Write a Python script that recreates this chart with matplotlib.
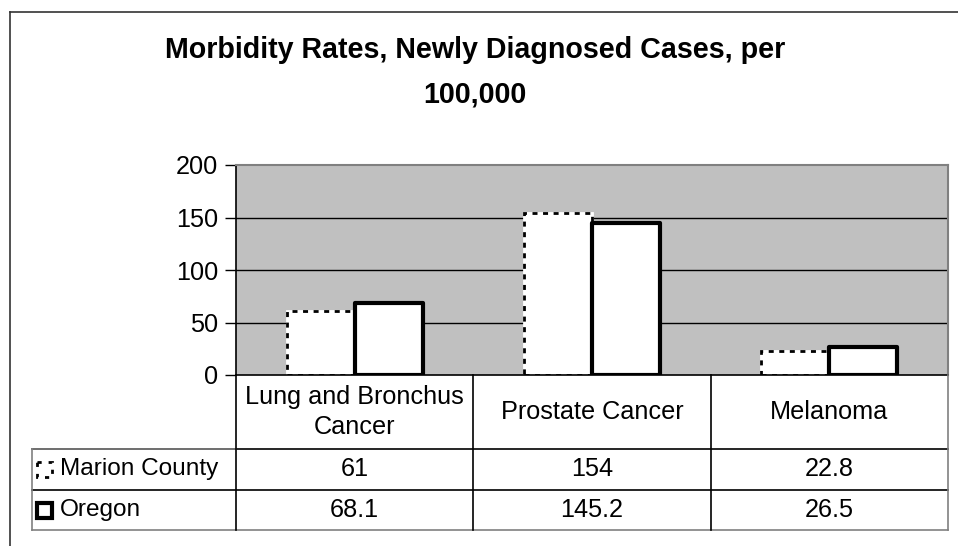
import matplotlib
matplotlib.use("Agg")
import matplotlib.pyplot as plt
from matplotlib.patches import Rectangle
from matplotlib.lines import Line2D

plt.rcParams["font.family"] = ["Liberation Sans", "DejaVu Sans"]

# data
categories = ["Lung and Bronchus\nCancer", "Prostate Cancer", "Melanoma"]
series_names = ["Marion County", "Oregon"]
marion = [61, 154, 22.8]
oregon = [68.1, 145.2, 26.5]
yticks = [0, 50, 100, 150, 200]

W, H = 958, 546
BAR_W = 0.287
FS = 18.2
OUTER = "#808080"


def fx(px):
    return px / W


def fy(py):
    return 1 - py / H


fig = plt.figure(figsize=(W / 100, H / 100), dpi=100)

# chart frame (top and left edge only)
fig.add_artist(Line2D([fx(10), 1], [fy(12), fy(12)], color="#333333", lw=1.2))
fig.add_artist(Line2D([fx(10), fx(10)], [fy(12), 0], color="#333333", lw=1.2))

fig.text(0.496, fy(72), "Morbidity Rates, Newly Diagnosed Cases, per\n100,000",
         ha="center", va="center", fontsize=20.6, fontweight="bold",
         linespacing=1.75)

# plot area
PL, PR, PT, PB = 236, 948, 165, 375
ax = fig.add_axes([fx(PL), fy(PB), (PR - PL) / W, (PB - PT) / H])
ax.set_facecolor("#c0c0c0")
x = list(range(len(categories)))
ax.set_xlim(-0.5, len(categories) - 0.5)
ax.set_ylim(0, 200)
ax.set_yticks(yticks)
ax.set_yticklabels([str(t) for t in yticks])
ax.tick_params(axis="y", direction="out", length=8, width=1, pad=5,
               labelsize=FS)
ax.set_xticks([])
for y in yticks[1:-1]:
    ax.axhline(y, color="black", lw=1, zorder=1)
ax.spines["left"].set_color("black")
ax.spines["left"].set_linewidth(1.2)
ax.spines["top"].set_color(OUTER)
ax.spines["right"].set_color(OUTER)
ax.spines["top"].set_linewidth(1.5)
ax.spines["right"].set_linewidth(1.5)
ax.spines["bottom"].set_visible(False)

xm = [i - BAR_W / 2 for i in x]
xo = [i + BAR_W / 2 for i in x]
# Marion County: white fill, dashed outline
ax.bar(xm, marion, BAR_W, color="white", edgecolor="white", lw=2, zorder=2)
ax.bar(xm, marion, BAR_W, fill=False, edgecolor="black", lw=2,
       linestyle=(0, (1.8, 2)), zorder=3)
# Oregon: white fill, heavy outline
ax.bar(xo, oregon, BAR_W, color="white", edgecolor="black", lw=3,
       joinstyle="round", zorder=4)

# data table under the plot
TL = 32
rows = [375, 449, 490, 530]
unit = (PR - PL) / len(categories)
x0 = -0.5 - (PL - TL) / unit
tax = fig.add_axes([fx(TL), fy(rows[-1]), (PR - TL) / W, (rows[-1] - rows[0]) / H])
tax.set_xlim(x0, len(categories) - 0.5)
tax.set_ylim(rows[-1], rows[0])
tax.axis("off")

edges = [-0.5 + k for k in range(len(categories) + 1)]
kw = dict(clip_on=False, lw=1.2)
# horizontal rules
tax.plot([-0.5, edges[-1]], [rows[0], rows[0]], color="black", **kw)
tax.plot([x0, edges[-1]], [rows[1], rows[1]], color="black", **kw)
tax.plot([x0, edges[-1]], [rows[2], rows[2]], color="black", **kw)
tax.plot([x0, edges[-1]], [rows[3], rows[3]], color=OUTER, **kw)
tax.plot([x0, -0.5], [rows[1], rows[1]], color=OUTER, **kw)
# vertical rules
for e in edges[:-1]:
    tax.plot([e, e], [rows[0], rows[3]], color="black", **kw)
tax.plot([edges[-1], edges[-1]], [rows[0], rows[3]], color=OUTER, **kw)
tax.plot([x0, x0], [rows[1], rows[3]], color=OUTER, **kw)

for i, cat in enumerate(categories):
    tax.text(i, (rows[0] + rows[1]) / 2, cat, ha="center", va="center",
             fontsize=FS, linespacing=1.3)
for r, vals in enumerate([marion, oregon]):
    yc = (rows[r + 1] + rows[r + 2]) / 2
    for i, v in enumerate(vals):
        tax.text(i, yc, f"{v:g}", ha="center", va="center", fontsize=FS)

# legend keys in the row headers
key_px = 15
kx = x0 + 5 / unit
kw_d = key_px / unit
for r, name in enumerate(series_names):
    yc = (rows[r + 1] + rows[r + 2]) / 2
    if r == 0:
        tax.add_patch(Rectangle((kx, yc - key_px / 2), kw_d, key_px,
                                facecolor="white", edgecolor="black", lw=2,
                                linestyle=(0, (1.5, 2.5)), clip_on=False))
    else:
        tax.add_patch(Rectangle((kx, yc - key_px / 2), kw_d, key_px,
                                facecolor="white", edgecolor="black", lw=3,
                                clip_on=False))
    tax.text(x0 + 28 / unit, yc, name, ha="left", va="center", fontsize=17.6)

fig.savefig("out.png", dpi=100)
